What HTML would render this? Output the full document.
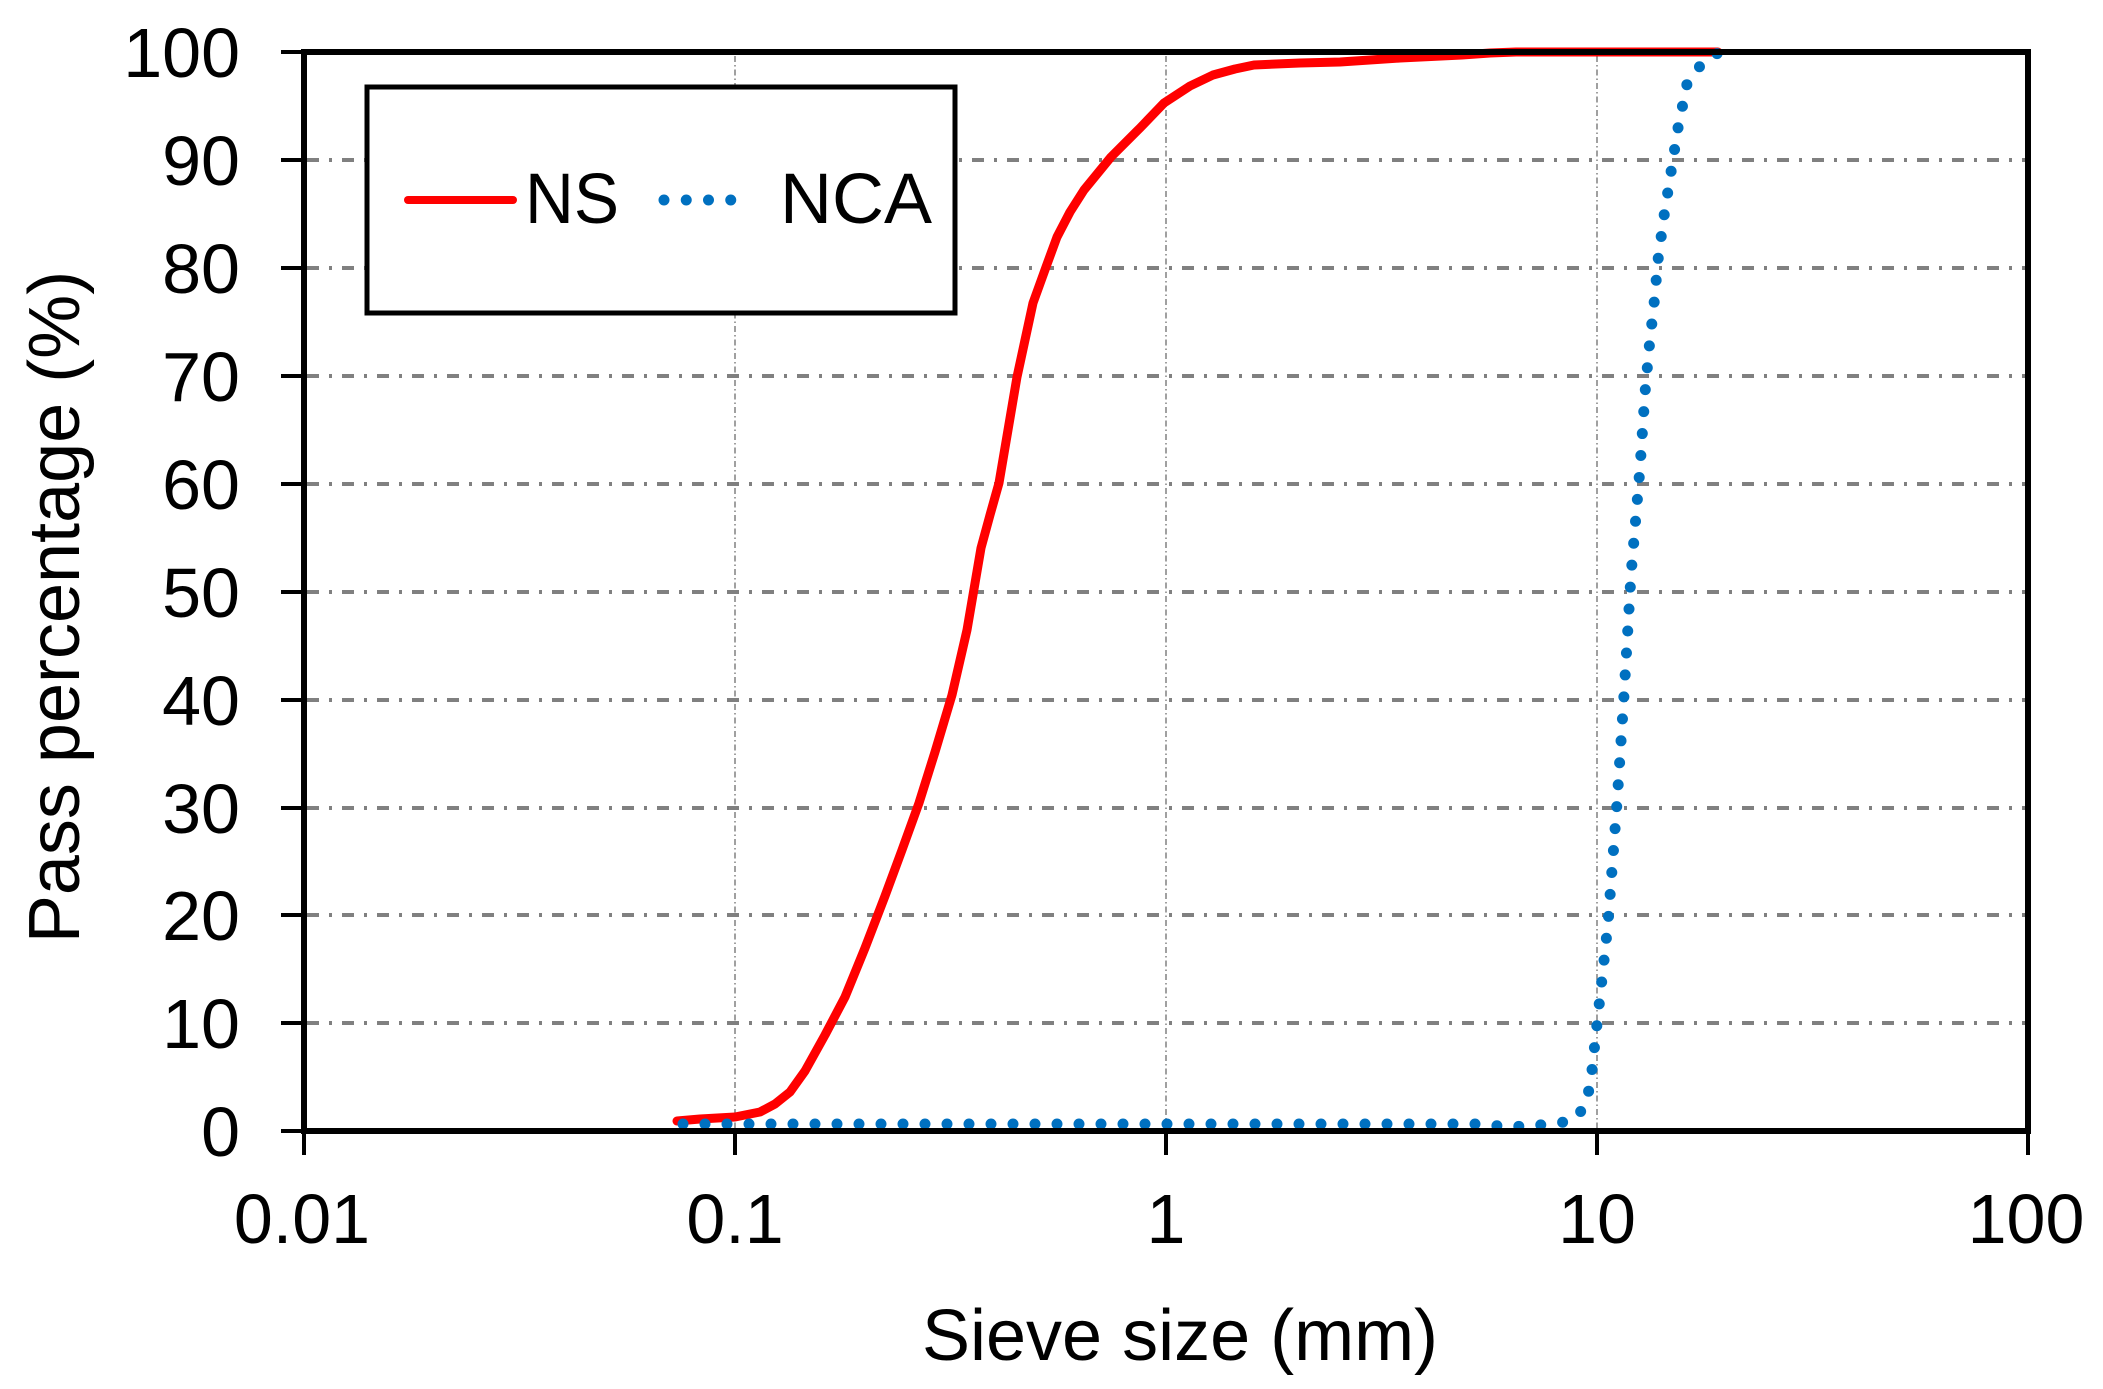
<!DOCTYPE html>
<html><head><meta charset="utf-8"><style>
html,body{margin:0;padding:0;background:#fff}
svg{display:block}
text{font-family:"Liberation Sans",Arial,sans-serif;fill:#000}
</style></head><body>
<svg width="2103" height="1389" viewBox="0 0 2103 1389" xmlns="http://www.w3.org/2000/svg">
<rect width="2103" height="1389" fill="#fff"/>
<g stroke="#808080" stroke-width="4" stroke-dasharray="12 10 3 10" fill="none">
<line x1="307" y1="160" x2="2025" y2="160"/>
<line x1="307" y1="268" x2="2025" y2="268"/>
<line x1="307" y1="376" x2="2025" y2="376"/>
<line x1="307" y1="484" x2="2025" y2="484"/>
<line x1="307" y1="592" x2="2025" y2="592"/>
<line x1="307" y1="700" x2="2025" y2="700"/>
<line x1="307" y1="808" x2="2025" y2="808"/>
<line x1="307" y1="915" x2="2025" y2="915"/>
<line x1="307" y1="1023" x2="2025" y2="1023"/>
</g>
<g stroke="#808080" stroke-width="1.5" stroke-dasharray="6 3 1.5 3" fill="none">
<line x1="735" y1="56" x2="735" y2="1128"/>
<line x1="1166" y1="56" x2="1166" y2="1128"/>
<line x1="1597" y1="56" x2="1597" y2="1128"/>
</g>
<polyline fill="none" stroke="#FF0000" stroke-width="9" stroke-linejoin="round" stroke-linecap="round" points="677,1121 700,1119 735,1117 760,1112 775,1104 790,1092 805,1071 825,1035 845,997 865,948 885,896 902,850 919,803 935,752 952,695 967,630 981,548 990,515 999,483 1008,430 1017,377 1025,340 1033,303 1046,267 1057,237 1070,212 1084,190 1111,157 1140,128 1164,103 1190,86 1213,75 1235,69 1254,65 1300,63 1340,62 1400,58 1462,55 1490,53 1516,52 1718,52"/>
<polyline fill="none" stroke="#0070C0" stroke-width="11" stroke-linecap="round" stroke-dasharray="0 22" points="683,1124 1480,1124 1508,1127 1540,1125 1565,1122 1577,1117 1583,1108 1588,1095 1592,1070 1597,1024 1603,970 1608,923 1617,803 1624,695 1631,575 1640,468 1645,393 1649,349 1654,304 1658,260 1664,216 1671,172 1678,128 1687,84 1700,66 1718,53"/>
<g stroke="#000" stroke-width="6" fill="none">
<rect x="304" y="52" width="1724" height="1079"/>
</g>
<g stroke="#000" stroke-width="4">
<line x1="281" y1="52" x2="304" y2="52"/><line x1="281" y1="160" x2="304" y2="160"/>
<line x1="281" y1="268" x2="304" y2="268"/><line x1="281" y1="376" x2="304" y2="376"/>
<line x1="281" y1="484" x2="304" y2="484"/><line x1="281" y1="592" x2="304" y2="592"/>
<line x1="281" y1="700" x2="304" y2="700"/><line x1="281" y1="808" x2="304" y2="808"/>
<line x1="281" y1="915" x2="304" y2="915"/><line x1="281" y1="1023" x2="304" y2="1023"/>
<line x1="281" y1="1131" x2="304" y2="1131"/>
<line x1="304" y1="1131" x2="304" y2="1155"/><line x1="735" y1="1131" x2="735" y2="1155"/>
<line x1="1166" y1="1131" x2="1166" y2="1155"/><line x1="1597" y1="1131" x2="1597" y2="1155"/>
<line x1="2028" y1="1131" x2="2028" y2="1155"/>
</g>
<g font-size="70" text-anchor="end">
<text x="240" y="77">100</text><text x="240" y="185">90</text><text x="240" y="293">80</text>
<text x="240" y="401">70</text><text x="240" y="509">60</text><text x="240" y="617">50</text>
<text x="240" y="725">40</text><text x="240" y="833">30</text><text x="240" y="940">20</text>
<text x="240" y="1048">10</text><text x="240" y="1156">0</text>
</g>
<g font-size="70" text-anchor="middle">
<text x="302" y="1243">0.01</text><text x="735" y="1243">0.1</text><text x="1166" y="1243">1</text>
<text x="1597" y="1243">10</text><text x="2026" y="1243">100</text>
</g>
<text x="1180" y="1360" font-size="72" text-anchor="middle">Sieve size (mm)</text>
<text transform="translate(79,607) rotate(-90)" font-size="72" text-anchor="middle">Pass percentage (%)</text>
<rect x="367" y="87" width="588" height="226" fill="#fff" stroke="#000" stroke-width="5"/>
<line x1="408" y1="200" x2="513" y2="200" stroke="#FF0000" stroke-width="8" stroke-linecap="round"/>
<text x="525" y="223" font-size="71" textLength="94" lengthAdjust="spacingAndGlyphs">NS</text>
<line x1="664" y1="200" x2="753" y2="200" stroke="#0070C0" stroke-width="11" stroke-linecap="round" stroke-dasharray="0 22.25"/>
<text x="780" y="223" font-size="71" textLength="152" lengthAdjust="spacingAndGlyphs">NCA</text>
</svg>
</body></html>
